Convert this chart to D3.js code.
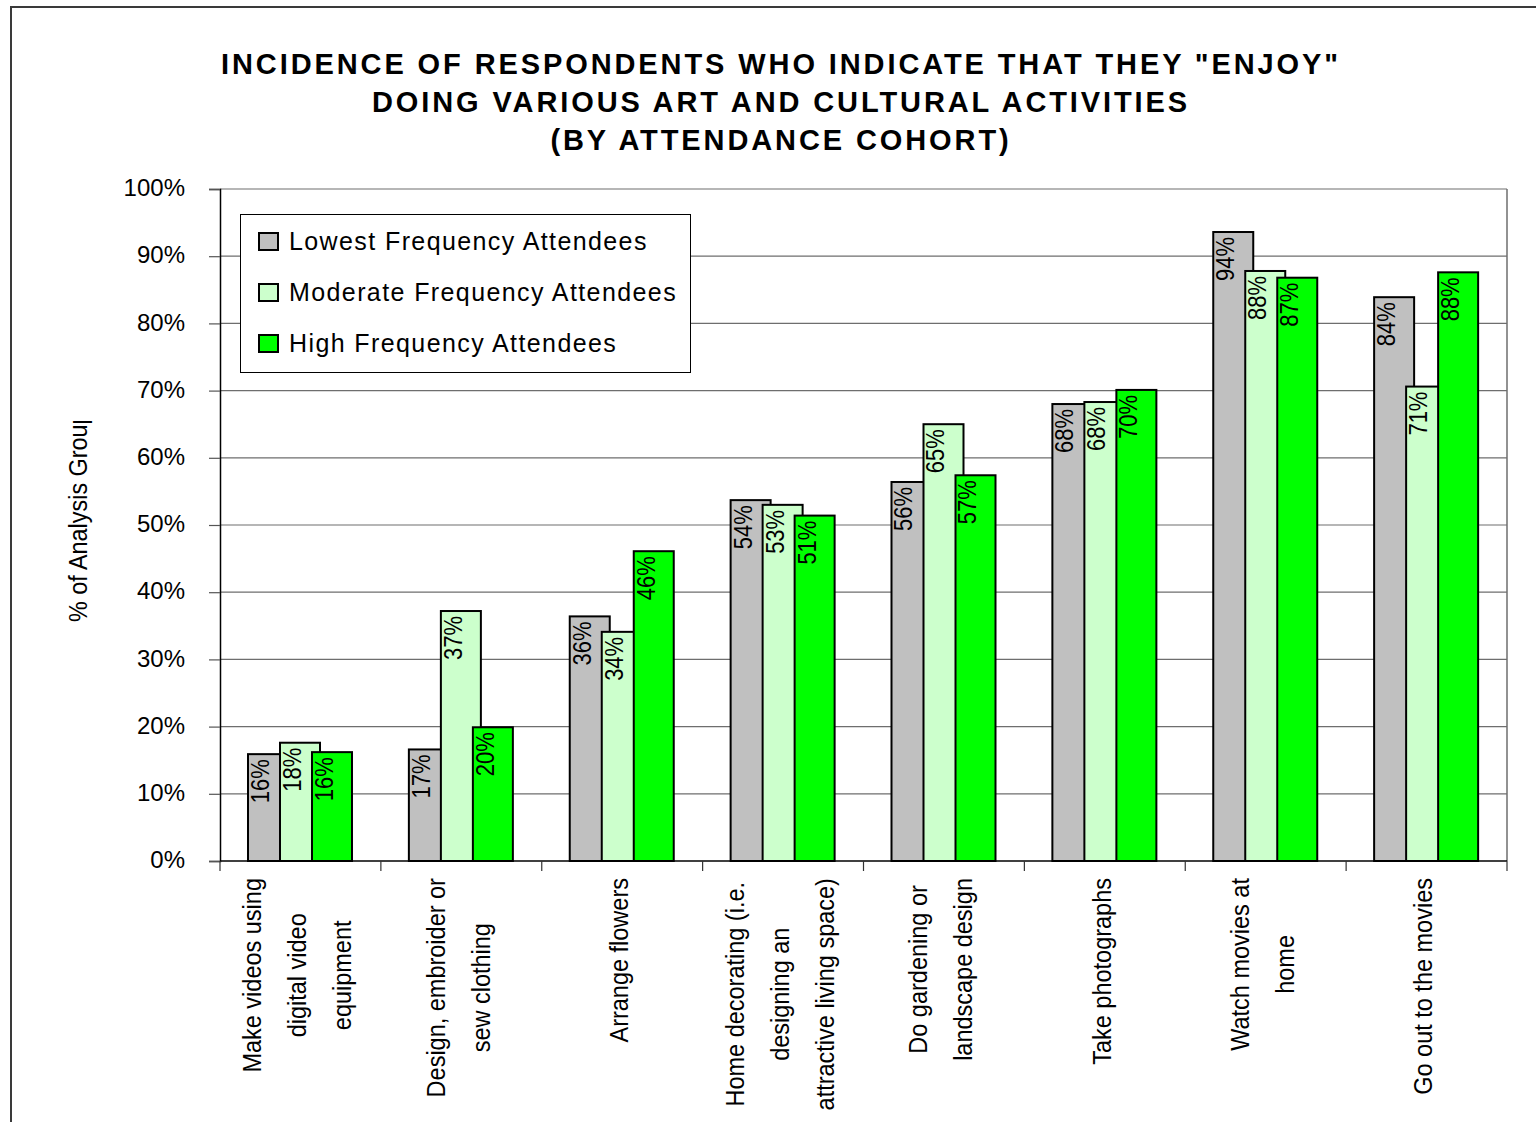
<!DOCTYPE html>
<html>
<head>
<meta charset="utf-8">
<script src="https://cdn.jsdelivr.net/npm/d3@7"></script>
<style>
  html, body { margin: 0; padding: 0; background: #fff; }
  svg { display: block; font-family: "Liberation Sans", Arial, sans-serif; }
</style>
</head>
<body>
<svg id="chart" width="1536" height="1122"></svg>
<script>
// ---------- data ----------
const titleLines = [
  'INCIDENCE OF RESPONDENTS WHO INDICATE THAT THEY "ENJOY"',
  'DOING VARIOUS ART AND CULTURAL ACTIVITIES',
  '(BY ATTENDANCE COHORT)'
];
const categories = [
  ["Make videos using", "digital video", "equipment"],
  ["Design, embroider or", "sew clothing"],
  ["Arrange flowers"],
  ["Home decorating (i.e.", "designing an", "attractive living space)"],
  ["Do gardening or", "landscape design"],
  ["Take photographs"],
  ["Watch movies at", "home"],
  ["Go out to the movies"]
];
const seriesNames = ["Lowest Frequency Attendees", "Moderate Frequency Attendees", "High Frequency Attendees"];
const seriesColors = ["#C0C0C0", "#CCFFCC", "#00FF00"];
const lowest   = [15.9, 16.6, 36.4, 53.7, 56.4, 68.0, 93.6, 83.9];
const moderate = [17.6, 37.2, 34.1, 53.0, 65.0, 68.3, 87.8, 70.6];
const high     = [16.2, 19.9, 46.1, 51.4, 57.4, 70.1, 86.8, 87.6];
const labelsLowest   = ["16%", "17%", "36%", "54%", "56%", "68%", "94%", "84%"];
const labelsModerate = ["18%", "37%", "34%", "53%", "65%", "68%", "88%", "71%"];
const labelsHigh     = ["16%", "20%", "46%", "51%", "57%", "70%", "87%", "88%"];
const yTicks = [0, 10, 20, 30, 40, 50, 60, 70, 80, 90, 100];
const yTitle = "% of Analysis Group";

const seriesValues = [lowest, moderate, high];
const seriesLabels = [labelsLowest, labelsModerate, labelsHigh];

// ---------- layout ----------
const svg = d3.select("#chart");
const plot = { left: 220, right: 1507, top: 189, bottom: 861 };

const x0 = d3.scaleBand().domain(d3.range(categories.length)).range([plot.left, plot.right]).padding(0);
const xs = d3.scaleLinear().domain([0, 2]).range([28, 92]); // overlapping series offsets inside a band
const barW = 40;
const y = d3.scaleLinear().domain([0, 100]).range([plot.bottom, plot.top]);

// outer chart border (right/bottom outside the picture)
svg.append("rect").attr("x", 11).attr("y", 7).attr("width", 2000).attr("height", 2000)
  .attr("fill", "none").attr("stroke", "#3a3a3a").attr("stroke-width", 2);

// title
const title = svg.append("text").attr("text-anchor", "middle")
  .attr("font-weight", "bold").attr("font-size", 29).attr("letter-spacing", "2.9px").attr("fill", "#000");
titleLines.forEach((t, i) => {
  title.append("tspan").attr("x", 781).attr("y", 74 + i * 38).text(t);
});

// gridlines
svg.append("g").selectAll("line").data(yTicks.filter(d => d > 0)).join("line")
  .attr("x1", plot.left).attr("x2", plot.right)
  .attr("y1", d => y(d)).attr("y2", d => y(d))
  .attr("stroke", "#6e6e6e").attr("stroke-width", 1.2);

// plot area right border
svg.append("line").attr("x1", plot.right).attr("x2", plot.right)
  .attr("y1", plot.top).attr("y2", plot.bottom).attr("stroke", "#6e6e6e").attr("stroke-width", 1.5);

// y axis
const yAxis = d3.axisLeft(y).tickValues(yTicks).tickSize(11).tickPadding(24).tickFormat(d => d + "%");
const gy = svg.append("g").attr("transform", `translate(${plot.left},0)`).call(yAxis);
gy.select(".domain").attr("stroke", "#000").attr("stroke-width", 1.5);
gy.selectAll(".tick line").attr("stroke", "#555").attr("stroke-width", 1.2);
gy.selectAll(".tick text").attr("font-size", 24).attr("font-family", "Liberation Sans, Arial, sans-serif")
  .attr("fill", "#000").attr("dy", "0.28em").attr("x", -35);

// bars
seriesValues.forEach((vals, si) => {
  svg.append("g").selectAll("rect").data(vals).join("rect")
    .attr("x", (d, i) => x0(i) + xs(si))
    .attr("y", d => y(d))
    .attr("width", barW)
    .attr("height", d => y(0) - y(d))
    .attr("fill", seriesColors[si])
    .attr("stroke", "#000").attr("stroke-width", 2);
});

// bar labels
seriesValues.forEach((vals, si) => {
  svg.append("g").selectAll("text").data(vals).join("text")
    .attr("transform", (d, i) => `translate(${x0(i) + xs(si) + 12.5},${y(d) + 5}) rotate(-90) scale(0.88,1)`)
    .attr("text-anchor", "end")
    .attr("dominant-baseline", "central")
    .attr("font-size", 25)
    .attr("fill", "#000")
    .text((d, i) => seriesLabels[si][i]);
});

// x axis
const gx = svg.append("g").attr("transform", `translate(0,${plot.bottom})`);
gx.append("line").attr("x1", plot.left).attr("x2", plot.right).attr("y1", 0).attr("y2", 0)
  .attr("stroke", "#000").attr("stroke-width", 1.5);
const bounds = d3.range(categories.length + 1).map(i => i < categories.length ? x0(i) : plot.right);
gx.selectAll("line.tk").data(bounds).join("line").attr("class", "tk")
  .attr("x1", d => d).attr("x2", d => d).attr("y1", 0).attr("y2", 10)
  .attr("stroke", "#333").attr("stroke-width", 1.2);

// category labels (rotated, multi-line)
const xsc = 0.94;
categories.forEach((lines, i) => {
  const cx = x0(i) + x0.bandwidth() / 2 - 3;
  const g = svg.append("g");
  const texts = lines.map((ln, j) => g.append("text")
    .attr("font-size", 25).attr("fill", "#000")
    .attr("text-anchor", "middle").attr("dominant-baseline", "central").text(ln));
  const maxLen = d3.max(texts, t => t.node().getComputedTextLength()) * xsc;
  const cy = 878 + maxLen / 2;
  texts.forEach((t, j) => {
    const lx = cx + (j - (lines.length - 1) / 2) * 45;
    t.attr("transform", `translate(${lx},${cy}) rotate(-90) scale(${xsc},1)`);
  });
});

// y axis title (clipped like the original)
svg.append("clipPath").attr("id", "ytclip").append("rect")
  .attr("x", 0).attr("y", 421).attr("width", 200).attr("height", 700);
svg.append("g").attr("clip-path", "url(#ytclip)")
  .append("text")
  .attr("transform", "translate(87,622) rotate(-90) scale(0.9,1)")
  .attr("text-anchor", "start").attr("font-size", 26)
  .attr("fill", "#000").text(yTitle);

// legend
const lg = svg.append("g");
lg.append("rect").attr("x", 240.5).attr("y", 214.5).attr("width", 450).attr("height", 158)
  .attr("fill", "#fff").attr("stroke", "#000").attr("stroke-width", 1);
seriesNames.forEach((name, i) => {
  const cy = 241 + i * 51;
  lg.append("rect").attr("x", 259).attr("y", cy - 8).attr("width", 19).attr("height", 17)
    .attr("fill", seriesColors[i]).attr("stroke", "#000").attr("stroke-width", 2);
  lg.append("text").attr("x", 289).attr("y", cy).attr("dominant-baseline", "central")
    .attr("font-size", 25).attr("letter-spacing", "1.4px").attr("fill", "#000").text(name);
});
</script>
</body>
</html>
